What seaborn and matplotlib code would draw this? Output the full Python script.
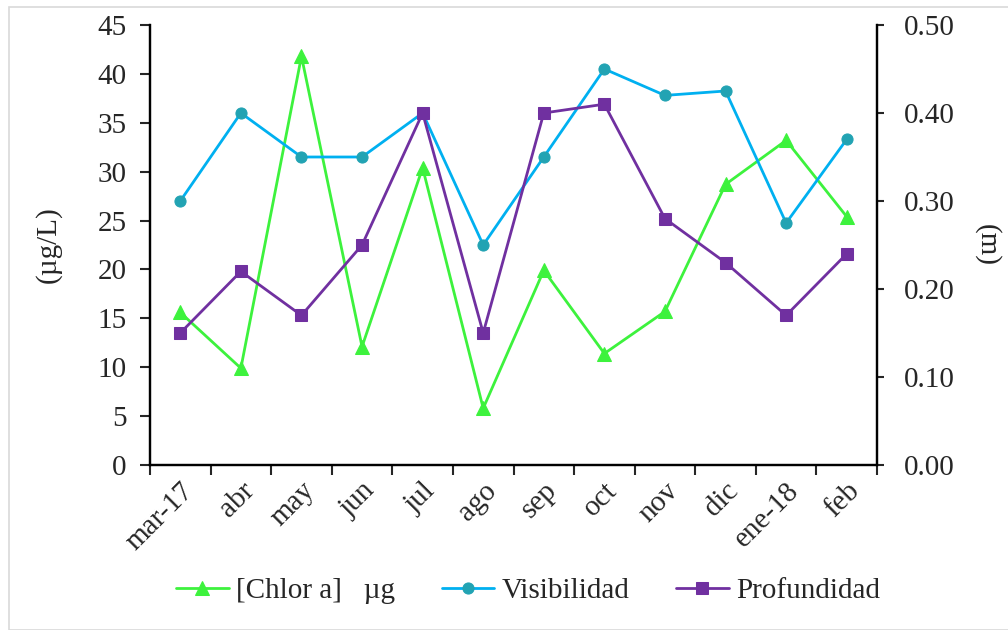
import matplotlib
matplotlib.use("Agg")
import matplotlib.pyplot as plt
from matplotlib.patches import Rectangle
import seaborn as sns
import numpy as np
import pandas as pd

months = ["mar-17", "abr", "may", "jun", "jul", "ago", "sep", "oct", "nov", "dic", "ene-18", "feb"]
chlor = [15.6, 9.9, 41.8, 12.1, 30.4, 5.8, 19.9, 11.4, 15.7, 28.7, 33.2, 25.4]
visibilidad = [0.30, 0.40, 0.35, 0.35, 0.40, 0.25, 0.35, 0.45, 0.42, 0.425, 0.275, 0.37]
profundidad = [0.15, 0.22, 0.17, 0.25, 0.40, 0.15, 0.40, 0.41, 0.28, 0.23, 0.17, 0.24]
left_ticks = [0, 5, 10, 15, 20, 25, 30, 35, 40, 45]
right_ticks = [0.0, 0.1, 0.2, 0.3, 0.4, 0.5]

sns.set_style("ticks")
plt.rcParams["font.family"] = ["Liberation Serif", "DejaVu Serif"]
plt.rcParams["font.size"] = 21

df = pd.DataFrame({"pos": np.arange(len(months)), "chlor": chlor,
                   "vis": visibilidad, "prof": profundidad})

fig = plt.figure(figsize=(10.08, 6.3), dpi=100)
ax = fig.add_axes([150/1008, 1-465/630, 727/1008, 440/630])
ax2 = ax.twinx()

green = "#3DF23D"
blue = "#00B0F0"
teal = "#22A3B3"
purple = "#7030A0"

sns.lineplot(data=df, x="pos", y="chlor", ax=ax, color=green, lw=2.0,
             marker="^", markersize=10, markeredgecolor=green, markerfacecolor=green,
             label="[Chlor a]   \u00b5g", legend=False)
sns.lineplot(data=df, x="pos", y="vis", ax=ax2, color=blue, lw=2.0,
             marker="o", markersize=8, markeredgecolor=teal, markerfacecolor=teal,
             label="Visibilidad", legend=False)
sns.lineplot(data=df, x="pos", y="prof", ax=ax2, color=purple, lw=2.0,
             marker="s", markersize=8, markeredgecolor=purple, markerfacecolor=purple,
             label="Profundidad", legend=False)

ax.set_xlim(-0.5, len(months) - 0.5)
ax.set_ylim(0, 45)
ax2.set_ylim(0, 0.5)
ax.set_yticks(left_ticks)
ax.set_yticklabels([str(t) for t in left_ticks])
ax2.set_yticks(right_ticks)
ax2.set_yticklabels([f"{t:.2f}" for t in right_ticks])

# category ticks at boundaries, labels at centres
ax.set_xticks(np.arange(-0.5, len(months), 1.0))
ax.set_xticklabels([])
ax.set_xticks(np.arange(len(months)), minor=True)
ax.set_xticklabels(months, minor=True, rotation=45, ha="right", rotation_mode="anchor")
ax.tick_params(axis="x", which="major", length=7, width=1.5, direction="out")
ax.tick_params(axis="x", which="minor", length=0, pad=9)
ax.tick_params(axis="y", length=7, width=1.5, direction="out", pad=10)
ax2.tick_params(axis="y", length=5, width=1.5, direction="out", pad=14)

ax.set_xlabel("")
ax.set_ylabel("(\u00b5g/L)")
ax2.set_ylabel("(m)", rotation=270)
ax.yaxis.set_label_coords(-0.122, 0.5)
ax2.yaxis.set_label_coords(1.17, 0.5)

for a in (ax, ax2):
    a.spines["top"].set_visible(False)
    for s in ("left", "right", "bottom"):
        a.spines[s].set_linewidth(1.6)
        a.spines[s].set_color("black")

h1, l1 = ax.get_legend_handles_labels()
h2, l2 = ax2.get_legend_handles_labels()
fig.legend(h1 + h2, l1 + l2, loc="center", bbox_to_anchor=(528/1008, 1-591/630),
           ncol=3, frameon=False, handlelength=1.8, columnspacing=1.6,
           handletextpad=0.25, fontsize=21)

fig.patches.append(Rectangle((9/1008, 0), 1.0, 1-7/630, transform=fig.transFigure,
                             fill=False, edgecolor="#D9D9D9", lw=1.2))

fig.savefig("out.png", dpi=100)
